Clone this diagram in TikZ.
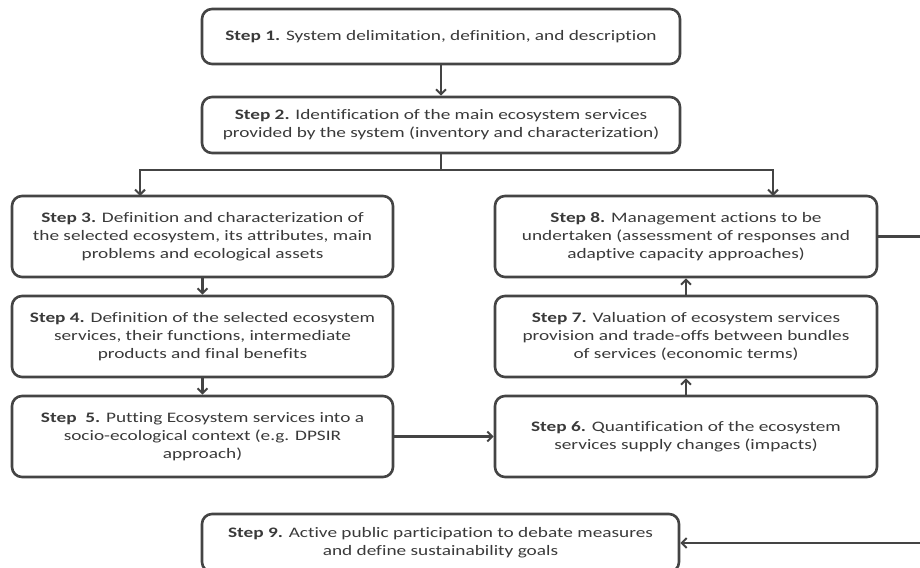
\documentclass[tikz,border=0pt]{standalone}
\usepackage{fontspec}
\setmainfont{Carlito}[Ligatures=CommonOff, FakeStretch=1.33]
\usetikzlibrary{arrows.meta}
\definecolor{lc}{HTML}{444444}
\definecolor{tc}{HTML}{3A3A3A}
\tikzset{
  stepbox/.style={draw=lc, line width=2.6pt, rounded corners=10pt, inner sep=0pt,
    align=center, text=tc, font=\fontsize{14.5}{18}\selectfont},
  conn/.style={draw=lc, line width=2.2pt, -{Straight Barb[length=5pt,width=10pt,line width=2pt]}},
  plain/.style={draw=lc, line width=2.2pt}
}
\begin{document}
\begin{tikzpicture}[x=1pt,y=-1pt]
\useasboundingbox (0,0) rectangle (920,567);
\fill[white] (0,0) rectangle (920,567);
\node[stepbox, minimum width=478pt, minimum height=55pt] (s1) at (441,36.5)
  {\textbf{Step 1.} System delimitation, definition, and description};
\node[stepbox, minimum width=478pt, minimum height=56pt] (s2) at (441,125)
  {\textbf{Step 2.} Identification of the main ecosystem services\\provided by the system (inventory and characterization)};
\node[stepbox, minimum width=381pt, minimum height=81pt] (s3) at (202.5,236.5)
  {\textbf{Step 3.} Definition and characterization of\\the selected ecosystem, its attributes, main\\problems and ecological assets};
\node[stepbox, minimum width=381pt, minimum height=81pt] (s4) at (202.5,336.5)
  {\textbf{Step 4.} Definition of the selected ecosystem\\services, their functions, intermediate\\products and final benefits};
\node[stepbox, minimum width=381pt, minimum height=81pt] (s5) at (202.5,436.5)
  {\textbf{Step\ \ 5.} Putting Ecosystem services into a\\socio-ecological context (e.g. DPSIR\\approach)};
\node[stepbox, minimum width=382pt, minimum height=81pt] (s8) at (686,236.5)
  {\textbf{Step 8.} Management actions to be\\undertaken (assessment of responses and\\adaptive capacity approaches)};
\node[stepbox, minimum width=382pt, minimum height=81pt] (s7) at (686,336.5)
  {\textbf{Step 7.} Valuation of ecosystem services\\provision and trade-offs between bundles\\of services (economic terms)};
\node[stepbox, minimum width=382pt, minimum height=81pt] (s6) at (686,436.5)
  {\textbf{Step 6.} Quantification of the ecosystem\\services supply changes (impacts)};
\node[stepbox, minimum width=477pt, minimum height=58pt] (s9) at (440.5,543)
  {\textbf{Step 9.} Active public participation to debate measures\\and define sustainability goals};
\coordinate (split) at (441,170);
\coordinate (eR) at (930,236.5);
\draw[conn] (s1) -- (s2);
\draw[plain] (s2.south) -- (split);
\draw[conn] (split) -| (140,196);
\draw[conn] (split) -| (773,196);
\draw[conn] (s3) -- (s4);
\draw[conn] (s4) -- (s5);
\draw[conn] (s5) -- (s6);
\draw[conn] (s6) -- (s7);
\draw[conn] (s7) -- (s8);
\draw[conn] (s8.east) -- (eR) |- (s9.east);
\end{tikzpicture}
\end{document}
